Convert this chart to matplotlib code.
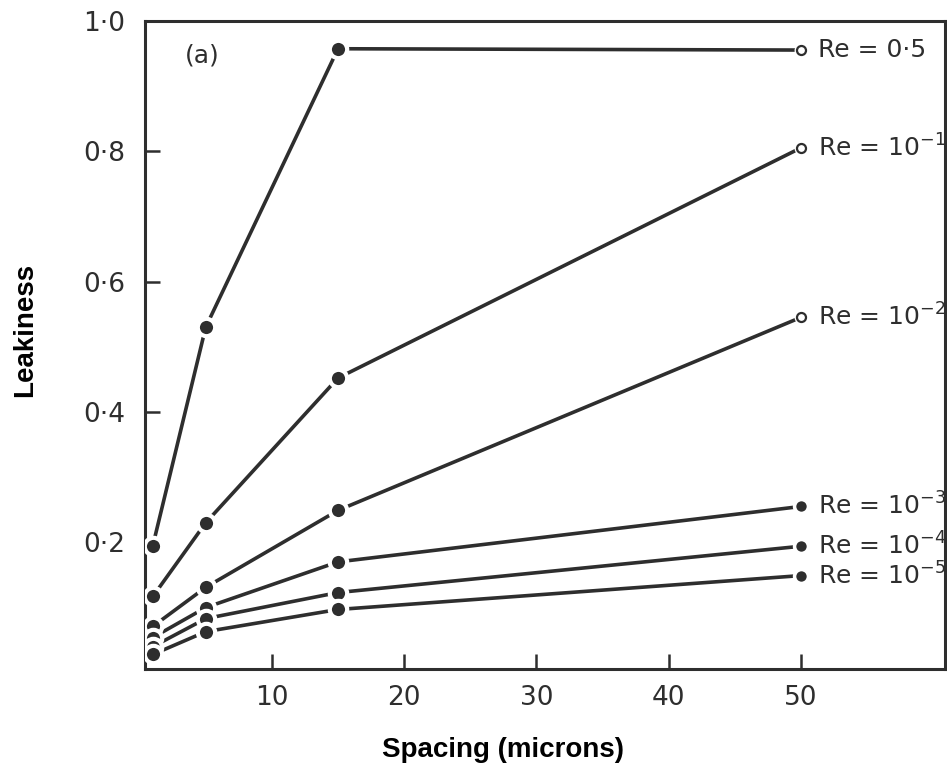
import matplotlib.pyplot as plt

# Spacing in microns (same for every curve)
spacing = [1, 5, 15, 50]

# Leakiness for each Reynolds number
leak_re_05 = [0.195, 0.53, 0.957, 0.955]
leak_re_1e1 = [0.117, 0.230, 0.452, 0.805]
leak_re_1e2 = [0.071, 0.131, 0.249, 0.545]
leak_re_1e3 = [0.054, 0.100, 0.170, 0.255]
leak_re_1e4 = [0.040, 0.083, 0.123, 0.194]
leak_re_1e5 = [0.028, 0.063, 0.097, 0.149]

curve_labels = ['Re = 0·5', r'Re = 10$^{-1}$', r'Re = 10$^{-2}$',
                r'Re = 10$^{-3}$', r'Re = 10$^{-4}$', r'Re = 10$^{-5}$']
open_last = [True, True, True, False, False, False]

x_ticks = [10, 20, 30, 40, 50]
y_ticks = [0.2, 0.4, 0.6, 0.8, 1.0]
y_tick_labels = ['0·2', '0·4', '0·6', '0·8', '1·0']

ink = '#2e2e2e'

fig = plt.figure(figsize=(9.47, 7.67), dpi=100)
ax = fig.add_axes([0.153, 0.128, 0.845, 0.845])

all_curves = [leak_re_05, leak_re_1e1, leak_re_1e2, leak_re_1e3, leak_re_1e4, leak_re_1e5]

for leak, label, is_open in zip(all_curves, curve_labels, open_last):
    # the line itself
    ax.plot(spacing, leak, color=ink, lw=2.6, solid_capstyle='butt', zorder=2)
    # interior points: filled dots with a white halo that cuts the line
    ax.plot(spacing[:-1], leak[:-1], 'o', ms=12.5, mfc=ink, mec='white', mew=3, zorder=3)
    # last point
    if is_open:
        ax.plot(spacing[-1], leak[-1], 'o', ms=10, mfc='white', mec='white', mew=0, zorder=3)
        ax.plot(spacing[-1], leak[-1], 'o', ms=6.5, mfc='white', mec=ink, mew=1.6, zorder=4)
    else:
        ax.plot(spacing[-1], leak[-1], 'o', ms=10, mfc=ink, mec='white', mew=2.5, zorder=3)
    ax.annotate(label, (spacing[-1], leak[-1]), xytext=(12, 0), textcoords='offset points',
                ha='left', va='center', fontsize=18, color=ink)

ax.text(3.4, 0.947, '(a)', fontsize=18, color=ink, ha='left', va='center')

ax.set_xlim(0.4, 60.9)
ax.set_ylim(0.006, 1.0)
ax.set_xticks(x_ticks)
ax.set_xticklabels([str(t) for t in x_ticks])
ax.set_yticks(y_ticks)
ax.set_yticklabels(y_tick_labels)
ax.tick_params(direction='in', length=11, width=1.8, color=ink, labelcolor=ink, labelsize=19)
ax.tick_params(axis='y', pad=14)
ax.tick_params(axis='x', pad=12)

for spine in ax.spines.values():
    spine.set_linewidth(2.2)
    spine.set_color(ink)

fig.text(25 / 947, 1 - 330 / 767, 'Leakiness', rotation=90, fontsize=20, fontweight='bold',
         family='Liberation Sans', ha='center', va='center', color='black')
fig.text(503 / 947, 1 - 750 / 767, 'Spacing (microns)', fontsize=20, fontweight='bold',
         family='Liberation Sans', ha='center', va='center', color='black')

plt.savefig('out.png', dpi=100)
